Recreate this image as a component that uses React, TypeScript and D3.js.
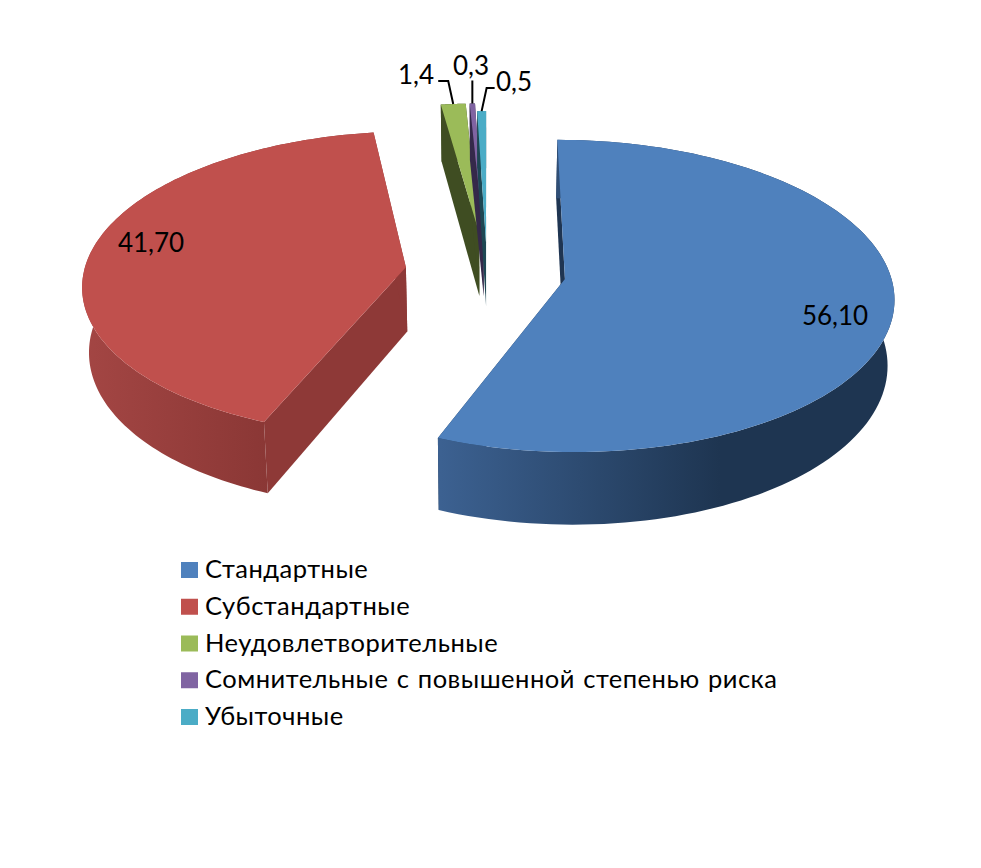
import React from "react";
import * as d3 from "d3";

// значения из подписей диаграммы
const categories = [
  "Стандартные",
  "Субстандартные",
  "Неудовлетворительные",
  "Сомнительные с повышенной степенью риска",
  "Убыточные",
];
const values = [56.1, 41.7, 1.4, 0.3, 0.5];
const valueLabels = ["56,10", "41,70", "1,4", "0,3", "0,5"];

const topColors = ["#4f81bd", "#c0504d", "#9bbb59", "#8064a2", "#4bacc6"];
const faceColors = ["#1f3552", "#8e3937", "#3f4d22", "#35294a", "#1d4753"];
const rimStops = [
  ["#3c6191", "#1e3551"],
  ["#a44644", "#8a3735"],
  ["#3f4d22", "#3f4d22"],
  ["#35294a", "#35294a"],
  ["#1d4753", "#1d4753"],
];

// вынос секторов и положение подписей
const explode = [79, 82, 85, 85, 64];
const radii = [325, 322, 322, 322, 322];
const labelPos: [number, number][] = [
  [835, 325],
  [151, 252],
  [416, 84],
  [471, 75],
  [514, 91],
];
const leaderOffsets: ([number, number][] | null)[] = [
  null,
  null,
  [[-5, -23], [-15, -23]],
  [[0, -23]],
  [[5, -23], [13, -23]],
];

const width = 981;
const height = 868;
const cx = 487;
const cy = 272;
const tilt = 0.47;
const persp = 0.00033;
const depth = 64.5;
const bottomShrink = 0.983;

const pie = d3.pie<number>().sort(null).startAngle(0).endAngle(2 * Math.PI);
const arcs = pie(values);

// перспективная проекция точки плоскости диаграммы
function project(x: number, y: number, z: number): [number, number] {
  const s = 1 / (1 + persp * y);
  const k = z > 0 ? bottomShrink : 1;
  return [cx + x * s * k, cy - y * tilt * s + z * s];
}

function pointAt(offset: [number, number], angle: number, r: number): [number, number] {
  return [offset[0] + r * Math.sin(angle), offset[1] + r * Math.cos(angle)];
}

const line = d3.line();

export default function App() {
  const slices = arcs.map((a, i) => {
    const mid = (a.startAngle + a.endAngle) / 2;
    const off: [number, number] = [explode[i] * Math.sin(mid), explode[i] * Math.cos(mid)];
    const angles = d3.range(0, 121).map((t) => a.startAngle + ((a.endAngle - a.startAngle) * t) / 120);
    const rimPts = angles.map((t) => pointAt(off, t, radii[i]));
    const top = rimPts.map(([x, y]) => project(x, y, 0));
    const bottom = rimPts.map(([x, y]) => project(x, y, depth));
    const tipTop = project(off[0], off[1], 0);
    const tipBottom = project(off[0], off[1], depth);
    return { i, mid, off, top, bottom, tipTop, tipBottom };
  });

  return (
    <svg width={width} height={height} style={{ position: "absolute", left: 0, top: 0 }}>
      <defs>
        {slices.map((s) => (
          <linearGradient
            key={s.i}
            id={`rim${s.i}`}
            gradientUnits="userSpaceOnUse"
            x1={s.i === 1 ? 80 : 440}
            x2={s.i === 1 ? 270 : 720}
            y1={0}
            y2={0}
          >
            <stop offset="0" stopColor={rimStops[s.i][0]} />
            <stop offset="1" stopColor={rimStops[s.i][1]} />
          </linearGradient>
        ))}
      </defs>

      {slices.map((s) => {
        const last = s.top.length - 1;
        return (
          <g key={s.i}>
            <path
              d={line([s.tipTop, s.top[0], s.bottom[0], s.tipBottom])! + "Z"}
              fill={faceColors[s.i]}
            />
            <path
              d={line([s.tipTop, s.top[last], s.bottom[last], s.tipBottom])! + "Z"}
              fill={faceColors[s.i]}
            />
            <path
              d={line([...s.top, ...[...s.bottom].reverse()])! + "Z"}
              fill={`url(#rim${s.i})`}
            />
            <path d={line([s.tipTop, ...s.top])! + "Z"} fill={topColors[s.i]} />
          </g>
        );
      })}

      {slices.map((s) => {
        const offs = leaderOffsets[s.i];
        if (!offs) return null;
        const anchor = project(...pointAt(s.off, s.mid, radii[s.i]), 0);
        const pts: [number, number][] = [anchor, ...offs.map(([dx, dy]) => [anchor[0] + dx, anchor[1] + dy] as [number, number])];
        return <path key={s.i} d={line(pts)!} fill="none" stroke="#000" strokeWidth={2} />;
      })}

      <g fontFamily="Lato, 'Open Sans', sans-serif" fill="#000">
        {valueLabels.map((t, i) => (
          <text key={t} x={labelPos[i][0]} y={labelPos[i][1]} textAnchor="middle" fontSize={26}>
            {t}
          </text>
        ))}
        {categories.map((c, i) => (
          <g key={c} transform={`translate(181,${570 + i * 36.75})`}>
            <rect x={0} y={-8} width={17} height={16} fill={topColors[i]} />
            <text x={24} y={8} fontSize={25.5} letterSpacing={0.5} wordSpacing={1.3}>
              {c}
            </text>
          </g>
        ))}
      </g>
    </svg>
  );
}
